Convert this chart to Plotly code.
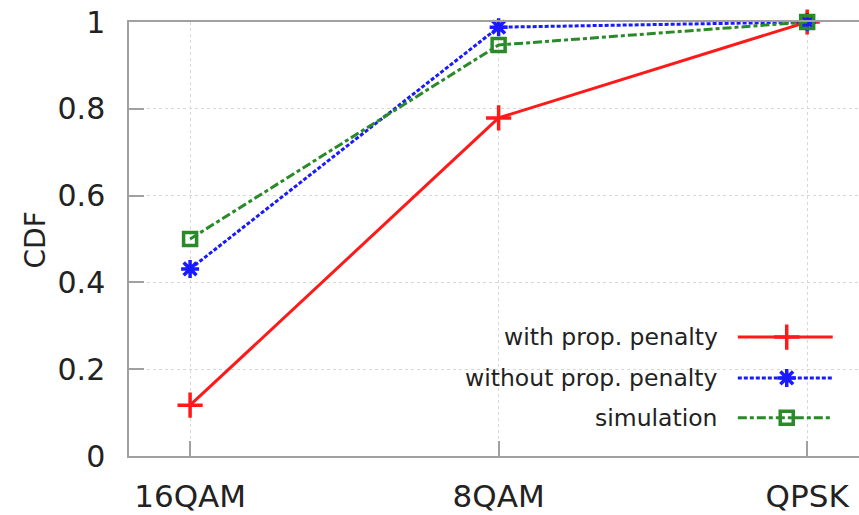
import plotly.graph_objects as go

categories = ["16QAM", "8QAM", "QPSK"]
with_penalty = [0.117, 0.779, 1.0]
without_penalty = [0.431, 0.988, 1.0]
simulation = [0.5, 0.947, 1.0]
y_ticks = [0, 0.2, 0.4, 0.6, 0.8, 1]
y_tick_labels = ["0", "0.2", "0.4", "0.6", "0.8", "1"]
series_names = ["with prop. penalty", "without prop. penalty", "simulation"]

RED = "#ff1a1a"
BLUE = "#1a1aff"
GREEN = "#2a8a2a"
FONT = "DejaVu Sans"
TXT = "#222222"

styles = [
    dict(color=RED, dash="solid", symbol="cross-thin-open", size=18),
    dict(color=BLUE, dash="4px,2px", symbol="asterisk-open", size=15),
    dict(color=GREEN, dash="9px,3px,4px,3px", symbol="square-open", size=13),
]
series = [with_penalty, without_penalty, simulation]

fig = go.Figure()
for name, vals, st in zip(series_names, series, styles):
    fig.add_trace(go.Scatter(
        x=categories, y=vals, mode="lines+markers", name=name,
        line=dict(color=st["color"], width=3, dash=st["dash"]),
        marker=dict(symbol=st["symbol"], size=st["size"], color=st["color"],
                    line=dict(color=st["color"], width=3.5)),
        showlegend=False, cliponaxis=False,
    ))

# custom legend (text on left, sample on right) in an overlay axis of 0..1 plot-area units
leg_rows = [0.274, 0.180, 0.088]
for name, st, ry in zip(series_names, styles, leg_rows):
    fig.add_trace(go.Scatter(
        x=[0.834, 0.964], y=[ry, ry], xaxis="x2", yaxis="y2", mode="lines",
        line=dict(color=st["color"], width=3, dash=st["dash"]),
        showlegend=False, hoverinfo="skip"))
    fig.add_trace(go.Scatter(
        x=[0.901], y=[ry], xaxis="x2", yaxis="y2", mode="markers",
        marker=dict(symbol=st["symbol"], size=st["size"], color=st["color"],
                    line=dict(color=st["color"], width=3.5)),
        showlegend=False, hoverinfo="skip"))
    fig.add_annotation(x=0.8096, y=ry, xref="paper", yref="paper", text=name,
                       showarrow=False, xanchor="right", yanchor="middle",
                       font=dict(family=FONT, size=23.5, color=TXT))

fig.add_annotation(x=-0.128, y=0.498, xref="paper", yref="paper", text="CDF",
                   showarrow=False, textangle=-90, xanchor="center", yanchor="middle",
                   font=dict(family=FONT, size=28, color=TXT))

fig.update_layout(
    width=859, height=515,
    margin=dict(l=129, r=0, t=22, b=59),
    paper_bgcolor="white", plot_bgcolor="white",
    font=dict(family=FONT, color=TXT),
    xaxis=dict(
        type="category", range=[-0.198, 2.168],
        showline=True, linecolor="#a0a0a0", linewidth=1.5, mirror=True,
        ticks="inside", ticklen=15, tickcolor="#a0a0a0", tickwidth=1.5,
        showgrid=True, gridcolor="#d8d8d8", griddash="dot", gridwidth=1,
        tickfont=dict(family=FONT, size=31, color=TXT),
        ticklabelstandoff=12, zeroline=False,
    ),
    yaxis=dict(
        range=[0, 1], tickvals=y_ticks, ticktext=y_tick_labels,
        showline=True, linecolor="#a0a0a0", linewidth=1.5, mirror=False,
        ticks="inside", ticklen=15, tickcolor="#a0a0a0", tickwidth=1.5,
        showgrid=True, gridcolor="#d8d8d8", griddash="dot", gridwidth=1,
        tickfont=dict(family=FONT, size=30, color=TXT),
        ticklabelstandoff=16, zeroline=False,
    ),
    xaxis2=dict(domain=[0, 1], range=[0, 1], overlaying="x", visible=False,
                anchor="y2"),
    yaxis2=dict(domain=[0, 1], range=[0, 1], overlaying="y", visible=False,
                anchor="x2"),
)

fig.write_html("out.html")
